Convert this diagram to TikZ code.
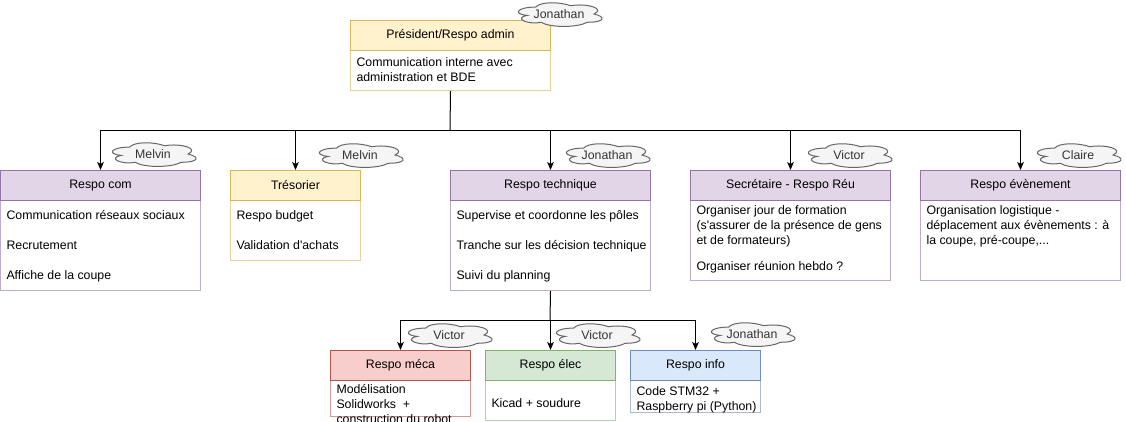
\documentclass[tikz,border=0pt]{standalone}
\usepackage{fontspec}
\newfontfamily\drawfont{Liberation Sans}
\usetikzlibrary{arrows.meta}

\definecolor{jaune}{HTML}{FFF2CC}
\definecolor{jaunefonce}{HTML}{D6B656}
\definecolor{jauneclair}{HTML}{E6D39A}
\definecolor{violet}{HTML}{E1D5E7}
\definecolor{violetfonce}{HTML}{9673A6}
\definecolor{violetclair}{HTML}{C0ABCA}
\definecolor{rose}{HTML}{F8CECC}
\definecolor{rosefonce}{HTML}{B85450}
\definecolor{roseclair}{HTML}{D49896}
\definecolor{vert}{HTML}{D5E8D4}
\definecolor{vertfonce}{HTML}{82B366}
\definecolor{vertclair}{HTML}{B4D1A3}
\definecolor{bleu}{HTML}{DAE8FC}
\definecolor{bleufonce}{HTML}{6C8EBF}
\definecolor{bleuclair}{HTML}{A7BBD9}
\definecolor{nuage}{HTML}{F5F5F5}
\definecolor{nuagetrait}{HTML}{666666}
\definecolor{nuagetexte}{HTML}{333333}

\tikzset{
  police/.style={font=\drawfont\fontsize{9.25}{11.25}\selectfont},
  titre/.style={police, draw, anchor=north west, inner sep=0pt, minimum height=22.5pt},
  corps/.style={draw, fill=white, anchor=north west, inner sep=0pt},
  texte/.style={police, anchor=north west, inner sep=0pt, align=left, execute at begin node=\strut},
  fleche/.style={-{Stealth[length=6pt,width=5pt,inset=1.5pt]}},
  % cloud with a name in it
  nuage/.pic={
    \draw[draw=nuagetrait, fill=nuage, xscale=1.1, yscale=1.2] (-21.25,-5.75)
      .. controls (-38.25,-5.75) and (-42.5,0) .. (-28.9,1.15)
      .. controls (-42.5,3.7) and (-27.2,9.2) .. (-16.15,6.9)
      .. controls (-8.5,11.5) and (17,11.5) .. (25.5,6.9)
      .. controls (42.5,6.9) and (42.5,2.3) .. (31.9,0)
      .. controls (42.5,-4.6) and (25.5,-9.2) .. (10.6,-6.9)
      .. controls (0,-10.35) and (-17,-10.35) .. (-21.25,-5.75) -- cycle;
    \node[police, text=nuagetexte, inner sep=0pt] (-t) at (0,0) {#1};
  }
}

\begin{document}
\begin{tikzpicture}[x=0.75pt,y=-0.75pt,line width=0.75pt]
  \useasboundingbox (0,0) rectangle (1126,421);
  \clip (0,0) rectangle (1126,421);

  % president
  \node[corps, draw=jauneclair, minimum width=150pt, minimum height=30pt] (presbody) at (350,50) {};
  \node[titre, fill=jaune, draw=jaunefonce, minimum width=150pt] (pres) at (350,20) {Président/Respo admin};
  \node[texte] (prestxt) at (356,57) {Communication interne avec\\administration et BDE};

  % second row
  \node[corps, draw=violetclair, minimum width=150pt, minimum height=67.5pt] (combody) at (0,200) {};
  \node[titre, fill=violet, draw=violetfonce, minimum width=150pt] (com) at (0,170) {Respo com};
  \node[texte] (comtxt) at (6,210) {Communication réseaux sociaux\\[11.25pt]Recrutement\\[11.25pt]Affiche de la coupe};

  \node[corps, draw=jauneclair, minimum width=97.5pt, minimum height=45pt] (tresobody) at (230,200) {};
  \node[titre, fill=jaune, draw=jaunefonce, minimum width=97.5pt] (treso) at (230,170) {Trésorier};
  \node[texte] (tresotxt) at (236,210) {Respo budget\\[11.25pt]Validation d'achats};

  \node[corps, draw=violetclair, minimum width=150pt, minimum height=67.5pt] (techbody) at (450,200) {};
  \node[titre, fill=violet, draw=violetfonce, minimum width=150pt] (tech) at (450,170) {Respo technique};
  \node[texte] (techtxt) at (456,210) {Supervise et coordonne les pôles\\[11.25pt]\makebox[141pt][l]{Tranche sur les décision technique}\\[11.25pt]Suivi du planning};

  \node[corps, draw=violetclair, minimum width=150pt, minimum height=60pt] (secrbody) at (690,200) {};
  \node[titre, fill=violet, draw=violetfonce, minimum width=150pt] (secr) at (690,170) {Secrétaire - Respo Réu};
  \node[texte] (secrtxt) at (696,205) {Organiser jour de formation\\(s'assurer de la présence de gens\\et de formateurs)\\[8.25pt]Organiser réunion hebdo ?};

  \node[corps, draw=violetclair, minimum width=150pt, minimum height=60pt] (eventbody) at (920,200) {};
  \node[titre, fill=violet, draw=violetfonce, minimum width=150pt] (event) at (920,170) {Respo évènement};
  \node[texte] (eventtxt) at (926,205) {Organisation logistique -\\déplacement aux évènements : à\\la coupe, pré-coupe,...};

  % third row
  \node[corps, draw=roseclair, minimum width=105pt, minimum height=27pt] (mecabody) at (330,380) {};
  \node[titre, fill=rose, draw=rosefonce, minimum width=105pt] (meca) at (330,350) {Respo méca};
  \node[texte] (mecatxt) at (336,384) {Modélisation\\Solidworks~ +\\construction du robot};

  \node[corps, draw=vertclair, minimum width=97.5pt, minimum height=30pt] (elecbody) at (485,380) {};
  \node[titre, fill=vert, draw=vertfonce, minimum width=97.5pt] (elec) at (485,350) {Respo élec};
  \node[texte] (electxt) at (491,396) {Kicad + soudure};

  \node[corps, draw=bleuclair, minimum width=97.5pt, minimum height=24pt] (infobody) at (630,380) {};
  \node[titre, fill=bleu, draw=bleufonce, minimum width=97.5pt] (info) at (630,350) {Respo info};
  \node[texte] (infotxt) at (636,386) {Code STM32 +\\Raspberry pi (Python)};

  % links
  \coordinate (bus1) at (450,130);
  \coordinate (bus2) at (550,320);
  \draw (presbody.south) -- (bus1);
  \foreach \n in {com,treso,tech,secr,event}
    \draw[fleche] (bus1) -| (\n.north);
  \draw (techbody.south) -- (bus2);
  \foreach \n in {meca,elec,info}
    \draw[fleche] (bus2) -| (\n.north);

  % names
  \pic (nompres) at (559,14) {nuage=Jonathan};
  \pic (nomcom) at (153,154) {nuage=Melvin};
  \pic (nomtreso) at (360,155) {nuage=Melvin};
  \pic (nomtech) at (607,155) {nuage=Jonathan};
  \pic (nomsecr) at (849,155) {nuage=Victor};
  \pic (nomevent) at (1078,155) {nuage=Claire};
  \pic (nommeca) at (449,335) {nuage=Victor};
  \pic (nomelec) at (597,335) {nuage=Victor};
  \pic (nominfo) at (752,334) {nuage=Jonathan};
\end{tikzpicture}
\end{document}
